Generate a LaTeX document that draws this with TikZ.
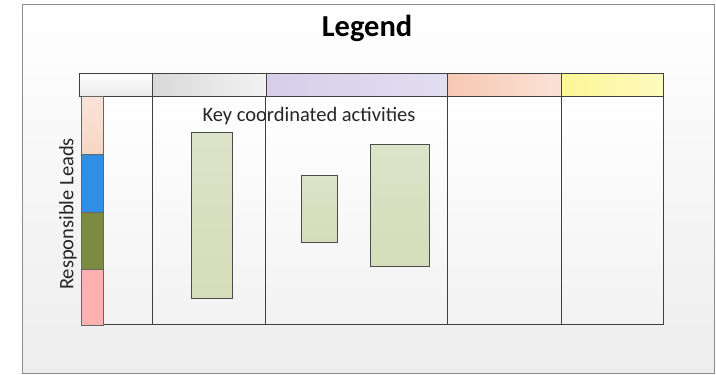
\documentclass[tikz,border=0pt]{standalone}
\usepackage{fontspec}
\setmainfont{Carlito}
\definecolor{actA}{RGB}{221,227,200}
\definecolor{actB}{RGB}{213,221,186}
\definecolor{lavA}{RGB}{214,206,234}
\definecolor{lavB}{RGB}{226,222,240}
\definecolor{peaA}{RGB}{246,200,178}
\definecolor{peaB}{RGB}{250,226,214}
\definecolor{yelA}{RGB}{252,246,150}
\definecolor{yelB}{RGB}{253,250,190}
\definecolor{leadA}{RGB}{250,228,215}
\definecolor{leadB}{RGB}{246,214,196}
\definecolor{leadBlue}{RGB}{47,143,230}
\definecolor{leadOlive}{RGB}{124,139,64}
\definecolor{leadPink}{RGB}{255,176,176}
\begin{document}
\begin{tikzpicture}[x=1pt,y=-1pt,
  cell/.style={draw=black!75, line width=0.8pt, anchor=north west, inner sep=0pt, outer sep=0pt},
  hdr/.style={cell, minimum height=23pt},
  col/.style={cell, minimum height=228pt, top color=white, bottom color=black!5},
  lead/.style={draw=black!60, line width=0.6pt, anchor=north west, inner sep=0pt, outer sep=0pt, minimum width=22pt},
  act/.style={draw=black!70, line width=0.8pt, anchor=north west, inner sep=0pt, outer sep=0pt, top color=actA, bottom color=actB},
  lbl/.style={font=\fontsize{20.5}{24}\selectfont, text=black!85}
]
\useasboundingbox (0,0) rectangle (716,375);
% outer frame
\node[draw=black!45, line width=0.8pt, anchor=north west, inner sep=0pt, minimum width=692pt, minimum height=369pt, top color=white, bottom color=black!7] (frame) at (22,4) {};
\node[font=\fontsize{30.5}{34}\selectfont\bfseries] (title) at (367,28) {Legend};
% header cells
\node[hdr, minimum width=73pt, top color=white, bottom color=black!8] (h1) at (79,73) {};
\node[hdr, minimum width=114pt, left color=black!15, right color=black!5] (h2) at (152,73) {};
\node[hdr, minimum width=181pt, left color=lavA, right color=lavB] (h3) at (266,73) {};
\node[hdr, minimum width=114pt, left color=peaA, right color=peaB] (h4) at (447,73) {};
\node[hdr, minimum width=102pt, left color=yelA, right color=yelB] (h5) at (561,73) {};
% body columns
\node[col, minimum width=49pt] (c1) at (103,96) {};
\node[col, minimum width=113pt] (c2) at (152,96) {};
\node[col, minimum width=182pt] (c3) at (265,96) {};
\node[col, minimum width=114pt] (c4) at (447,96) {};
\node[col, minimum width=102pt] (c5) at (561,96) {};
% lead strip
\node[lead, minimum height=58pt, top color=leadA, bottom color=leadB] (l1) at (81,96) {};
\node[lead, minimum height=58pt, fill=leadBlue] (l2) at (81,154) {};
\node[lead, minimum height=57pt, fill=leadOlive] (l3) at (81,212) {};
\node[lead, minimum height=56pt, fill=leadPink] (l4) at (81,269) {};
\node[lbl, rotate=90] (rl) at (68,214) {Responsible Leads};
% activities
\node[lbl] (key) at (309,116) {Key coordinated activities};
\node[act, minimum width=41pt, minimum height=166pt] (a1) at (191,132) {};
\node[act, minimum width=36pt, minimum height=67pt] (a2) at (301,175) {};
\node[act, minimum width=59pt, minimum height=122pt] (a3) at (370,144) {};
\end{tikzpicture}
\end{document}
